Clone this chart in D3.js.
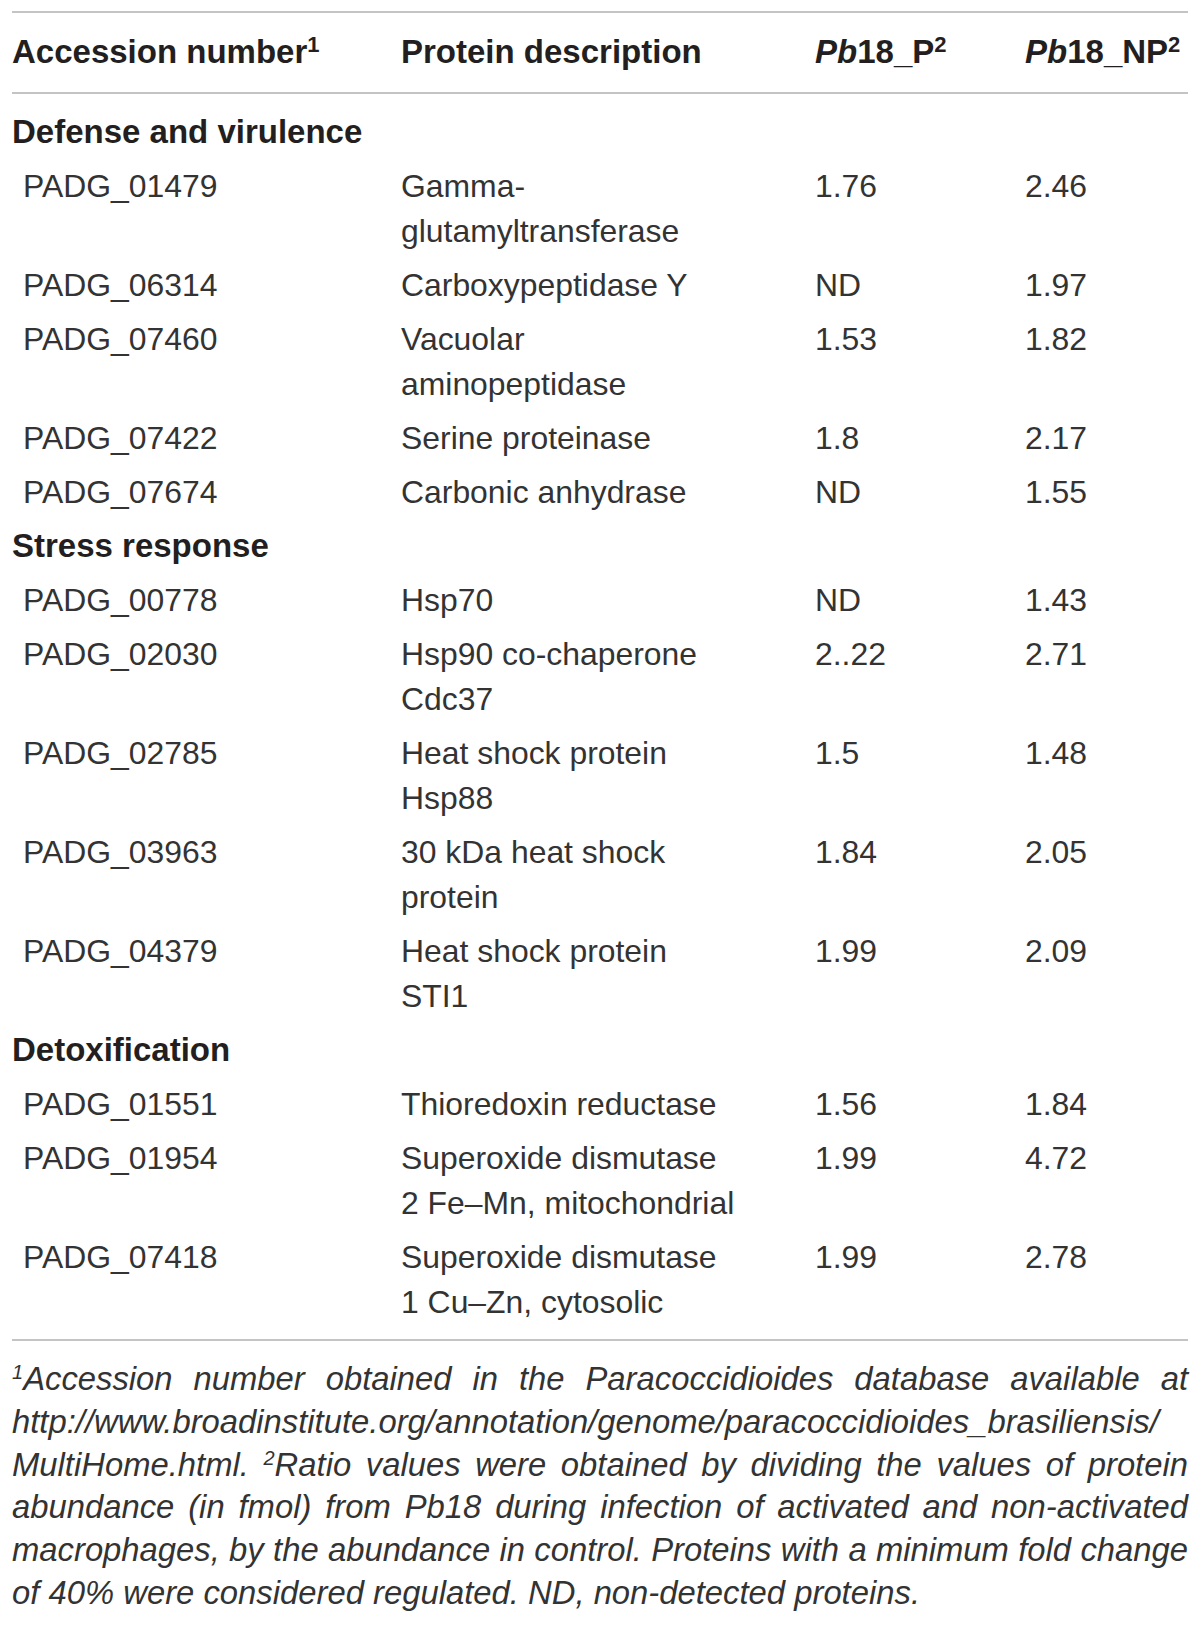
<!DOCTYPE html>
<html>
<head>
<meta charset="utf-8">
<script src="https://cdn.jsdelivr.net/npm/d3@7"></script>
<style>
  body { margin: 0; background: #fff; }
</style>
</head>
<body>
<script>
const width = 1200;
const height = 1626;
const tableLeft = 12;
const tableRight = 1188;

const textColor = "#231f20";
const bodyColor = "#333333";
const ruleColor = "#c4c4c4";
const fontFamily = "'Liberation Sans', Arial, Helvetica, sans-serif";

// table content
const sections = ["Defense and virulence", "Stress response", "Detoxification"];
const sectionOf = [0, 0, 0, 0, 0, 1, 1, 1, 1, 1, 2, 2, 2];
const accessions = [
  "PADG_01479", "PADG_06314", "PADG_07460", "PADG_07422", "PADG_07674",
  "PADG_00778", "PADG_02030", "PADG_02785", "PADG_03963", "PADG_04379",
  "PADG_01551", "PADG_01954", "PADG_07418"
];
const descriptions = [
  ["Gamma-", "glutamyltransferase"],
  ["Carboxypeptidase Y"],
  ["Vacuolar", "aminopeptidase"],
  ["Serine proteinase"],
  ["Carbonic anhydrase"],
  ["Hsp70"],
  ["Hsp90 co-chaperone", "Cdc37"],
  ["Heat shock protein", "Hsp88"],
  ["30 kDa heat shock", "protein"],
  ["Heat shock protein", "STI1"],
  ["Thioredoxin reductase"],
  ["Superoxide dismutase", "2 Fe\u2013Mn, mitochondrial"],
  ["Superoxide dismutase", "1 Cu\u2013Zn, cytosolic"]
];
const pb18P = ["1.76", "ND", "1.53", "1.8", "ND", "ND", "2..22", "1.5", "1.84", "1.99", "1.56", "1.99", "1.99"];
const pb18NP = ["2.46", "1.97", "1.82", "2.17", "1.55", "1.43", "2.71", "1.48", "2.05", "2.09", "1.84", "4.72", "2.78"];

// header cells: [text, italic?] pieces plus a superscript
const headers = [
  { key: "acc", parts: [["Accession number", false]], sup: "1" },
  { key: "desc", parts: [["Protein description", false]], sup: null },
  { key: "p", parts: [["Pb", true], ["18_P", false]], sup: "2" },
  { key: "np", parts: [["Pb", true], ["18_NP", false]], sup: "2" }
];

// footnote lines; "^n" marks a superscript, second item = justify
const footLines = [
  ["^1Accession number obtained in the Paracoccidioides database available at", true],
  ["http://www.broadinstitute.org/annotation/genome/paracoccidioides_brasiliensis/", false],
  ["MultiHome.html. ^2Ratio values were obtained by dividing the values of protein", true],
  ["abundance (in fmol) from Pb18 during infection of activated and non-activated", true],
  ["macrophages, by the abundance in control. Proteins with a minimum fold change", true],
  ["of 40% were considered regulated. ND, non-detected proteins.", false]
];

const colX = d3.scaleOrdinal()
  .domain(["acc", "desc", "p", "np"])
  .range([23, 401, 815, 1025]);

const rowStep = 54;
const lineStep = 45;
const bodySize = 31.9;
const headSize = 33;
const footSize = 32.8;

const svg = d3.select("body").append("svg")
  .attr("width", width)
  .attr("height", height)
  .style("font-family", fontFamily);

// build the row list with cumulative baselines
const rows = [];
let y = 143;
sections.forEach((s, si) => {
  rows.push({ type: "section", label: s, y: y });
  y += rowStep;
  accessions.forEach((a, i) => {
    if (sectionOf[i] !== si) return;
    rows.push({ type: "data", i: i, y: y });
    y += rowStep + (descriptions[i].length - 1) * lineStep;
  });
});
const lastRow = rows[rows.length - 1];
const lastBaseline = lastRow.y + (descriptions[lastRow.i].length - 1) * lineStep;

// rules
const rules = [12, 93, lastBaseline + 27];
svg.selectAll("line.rule")
  .data(rules)
  .join("line")
  .attr("class", "rule")
  .attr("x1", tableLeft)
  .attr("x2", tableRight)
  .attr("y1", d => d)
  .attr("y2", d => d)
  .attr("stroke", ruleColor)
  .attr("stroke-width", 2);

// header
const headText = svg.selectAll("text.head")
  .data(headers)
  .join("text")
  .attr("class", "head")
  .attr("x", d => d.key === "acc" ? tableLeft : colX(d.key))
  .attr("y", 63)
  .attr("fill", textColor)
  .attr("font-size", headSize)
  .attr("font-weight", 700);

headText.each(function(d) {
  const t = d3.select(this);
  d.parts.forEach(p => {
    t.append("tspan").text(p[0]).attr("font-style", p[1] ? "italic" : "normal");
  });
  if (d.sup) {
    t.append("tspan").text(d.sup)
      .attr("font-size", 22)
      .attr("dy", -11);
  }
});

// section labels
svg.selectAll("text.section")
  .data(rows.filter(r => r.type === "section"))
  .join("text")
  .attr("class", "section")
  .attr("x", tableLeft)
  .attr("y", d => d.y)
  .attr("fill", textColor)
  .attr("font-size", headSize)
  .attr("font-weight", 700)
  .text(d => d.label);

// data rows
const dataRows = rows.filter(r => r.type === "data");
const g = svg.selectAll("g.row")
  .data(dataRows)
  .join("g")
  .attr("class", "row")
  .attr("transform", d => `translate(0,${d.y})`)
  .attr("fill", bodyColor)
  .attr("font-size", bodySize);

g.append("text").attr("x", colX("acc")).text(d => accessions[d.i]);
g.append("text").attr("x", colX("p")).text(d => pb18P[d.i]);
g.append("text").attr("x", colX("np")).text(d => pb18NP[d.i]);
g.each(function(d) {
  d3.select(this).selectAll("text.desc")
    .data(descriptions[d.i])
    .join("text")
    .attr("class", "desc")
    .attr("x", colX("desc"))
    .attr("y", (l, k) => k * lineStep)
    .text(l => l);
});

// footnote, justified like the journal layout
const footTop = lastBaseline + 77;
const footStep = 42.8;
footLines.forEach((fl, li) => {
  const words = fl[0].split(" ");
  const ly = footTop + li * footStep;
  const nodes = words.map(w => {
    const t = svg.append("text")
      .attr("y", ly)
      .attr("fill", bodyColor)
      .attr("font-size", footSize)
      .attr("font-style", "italic");
    const m = w.match(/^\^(\d)(.*)$/);
    if (m) {
      t.append("tspan").text(m[1]).attr("font-size", 20).attr("dy", -11);
      t.append("tspan").text(m[2]).attr("dy", 11);
    } else {
      t.text(w);
    }
    return t;
  });
  const widths = nodes.map(n => n.node().getComputedTextLength());
  const total = d3.sum(widths);
  const space = footSize * 0.278;
  const gap = (fl[1] && words.length > 1)
    ? (tableRight - tableLeft - total) / (words.length - 1)
    : space;
  let x = tableLeft;
  nodes.forEach((n, k) => {
    n.attr("x", x);
    x += widths[k] + gap;
  });
});
</script>
</body>
</html>
